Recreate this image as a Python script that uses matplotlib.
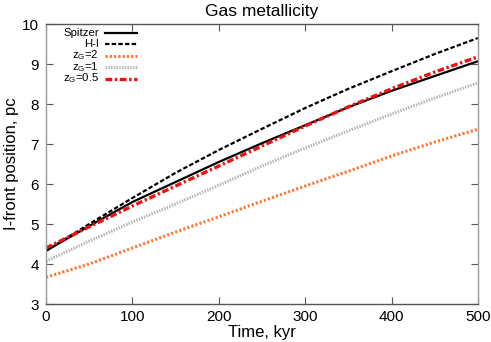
import matplotlib
matplotlib.use("Agg")
import matplotlib.pyplot as plt
from matplotlib.lines import Line2D

plt.rcParams['font.family'] = ['Liberation Sans', 'DejaVu Sans']
plt.rcParams['mathtext.fontset'] = 'custom'
plt.rcParams['mathtext.rm'] = 'Liberation Sans'
plt.rcParams['mathtext.it'] = 'Liberation Sans'

time_kyr = [0, 50, 100, 150, 200, 250, 300, 350, 400, 450, 500]
spitzer = [4.33, 4.95, 5.55, 6.05, 6.55, 7.02, 7.47, 7.92, 8.33, 8.70, 9.07]
h_i = [4.33, 5.00, 5.65, 6.28, 6.85, 7.38, 7.90, 8.38, 8.82, 9.25, 9.65]
zg2 = [3.67, 4.00, 4.40, 4.80, 5.18, 5.57, 5.95, 6.32, 6.70, 7.05, 7.37]
zg1 = [4.07, 4.57, 5.05, 5.50, 5.97, 6.45, 6.90, 7.33, 7.75, 8.15, 8.53]
zg05 = [4.40, 4.93, 5.45, 5.95, 6.45, 6.95, 7.45, 7.93, 8.38, 8.80, 9.18]

labels = ['Spitzer', 'H-I', r'z$_\mathrm{G}$=2', r'z$_\mathrm{G}$=1', r'z$_\mathrm{G}$=0.5']

fig = plt.figure(figsize=(4.91, 3.42), dpi=100)
ax = fig.add_axes([46/491, 1-304/342, (478-46)/491, (304-24)/342])

styles = [
    dict(color='black', lw=1.6, ls='-'),
    dict(color='black', lw=1.6, dashes=(2, 1)),
    dict(color='#ff7733', lw=2.2, dashes=(0.7, 0.7)),
    dict(color='#b8b8b8', lw=2.2, dashes=(0.5, 0.4)),
    dict(color='#ee1111', lw=2.4, dashes=(2, 0.8, 0.7, 0.8)),
]
series = [spitzer, h_i, zg2, zg1, zg05]
for ys, st, lab in zip(series, styles, labels):
    ax.plot(time_kyr, ys, label=lab, **st)

ax.set_xlim(0, 500)
ax.set_ylim(3, 10)
ax.set_xticks([0, 100, 200, 300, 400, 500])
ax.set_yticks([3, 4, 5, 6, 7, 8, 9, 10])
ax.tick_params(direction='in', top=True, right=True, labelsize=11, length=5, color='#555555')
ax.tick_params(axis='x', pad=4)
ax.tick_params(axis='y', pad=5)
for s in ['left', 'right']:
    ax.spines[s].set_color('#999999')
for s in ['top', 'bottom']:
    ax.spines[s].set_color('#555555')
for s in ax.spines.values():
    s.set_linewidth(1.0)

ax.set_xlabel('Time, kyr', fontsize=12, labelpad=1)
ax.set_ylabel('I-front position, pc', fontsize=12, labelpad=2)
ax.set_title('Gas metallicity', fontsize=12.5, pad=6)

# gnuplot-style key: right-aligned labels followed by line samples
def ax_x(px):
    return (px - 46) / 432

def ax_y(py):
    return 1 - (py - 24) / 280

row_px = [33, 44, 55.5, 67, 78.5]
for py, st, lab in zip(row_px, styles, labels):
    ax.text(ax_x(99), ax_y(py), lab, transform=ax.transAxes, ha='right', va='center',
            fontsize=8.2)
    ax.add_line(Line2D([ax_x(105), ax_x(137)], [ax_y(py), ax_y(py)],
                       transform=ax.transAxes, clip_on=False, **st))

fig.savefig('out.png', dpi=100)
